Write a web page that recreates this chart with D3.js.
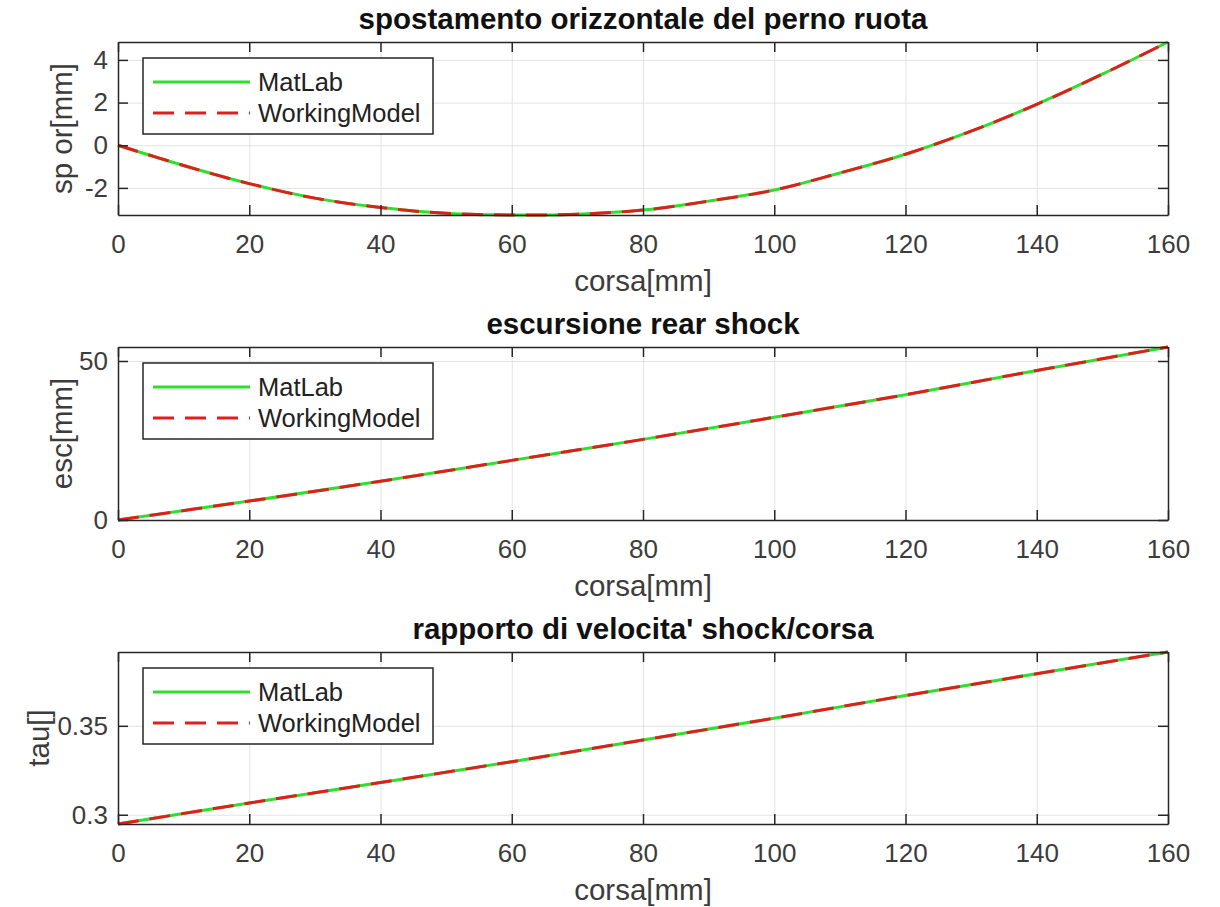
<!DOCTYPE html>
<html>
<head>
<meta charset="utf-8">
<script src="https://cdn.jsdelivr.net/npm/d3@7"></script>
<style>
  html, body { margin: 0; padding: 0; background: #fff; }
  svg { display: block; }
  text { font-family: "Liberation Sans", Arial, sans-serif; }
</style>
</head>
<body>
<svg id="chart" width="1220" height="907"></svg>
<script>
// ---------------- data ----------------
const xTicks = [0, 20, 40, 60, 80, 100, 120, 140, 160];

// panel 1: spostamento orizzontale del perno ruota
const corsa1 = [0, 10, 20, 30, 40, 50, 60, 70, 80, 90, 100, 110, 120, 130, 140, 150, 160];
const spOrMatLab = [0, -0.95, -1.80, -2.48, -2.92, -3.19, -3.27, -3.23, -3.04, -2.62, -2.10, -1.30, -0.42, 0.66, 1.92, 3.33, 4.84];
const spOrWorkingModel = [0, -0.95, -1.80, -2.48, -2.92, -3.19, -3.27, -3.23, -3.04, -2.62, -2.10, -1.30, -0.42, 0.66, 1.92, 3.33, 4.84];
const yTicks1 = [-2, 0, 2, 4];

// panel 2: escursione rear shock
const corsa2 = [0, 20, 40, 60, 80, 100, 120, 140, 160];
const escMatLab = [0, 5.95, 12.2, 18.75, 25.35, 32.3, 39.4, 47.0, 54.4];
const escWorkingModel = [0, 5.95, 12.2, 18.75, 25.35, 32.3, 39.4, 47.0, 54.4];
const yTicks2 = [0, 50];

// panel 3: rapporto di velocita' shock/corsa
const corsa3 = [0, 20, 40, 60, 80, 100, 120, 140, 160];
const tauMatLab = [0.2948, 0.3066, 0.3181, 0.3298, 0.3420, 0.3543, 0.3670, 0.3793, 0.3915];
const tauWorkingModel = [0.2948, 0.3066, 0.3181, 0.3298, 0.3420, 0.3543, 0.3670, 0.3793, 0.3915];
const yTicks3 = [0.3, 0.35];

const titles = ["spostamento orizzontale del perno ruota", "escursione rear shock", "rapporto di velocita' shock/corsa"];
const yLabels = ["sp or[mm]", "esc[mm]", "tau[]"];
const xLabel = "corsa[mm]";
const seriesNames = ["MatLab", "WorkingModel"];

// ---------------- layout / style ----------------
const left = 118, right = 1168;
const panels = [
  { top: 42,  bottom: 215, x: corsa1, a: spOrMatLab, b: spOrWorkingModel, yt: yTicks1, ylx: 72 },
  { top: 347, bottom: 520, x: corsa2, a: escMatLab,  b: escWorkingModel,  yt: yTicks2, ylx: 72 },
  { top: 652, bottom: 824, x: corsa3, a: tauMatLab,  b: tauWorkingModel,  yt: yTicks3, ylx: 49 }
];
const GREEN = "#2ee02e", RED = "#e01e1e";
const AXIS = "#262626", GRID = "#e3e3e3", TXT = "#3c3c3c";
const TICK_FS = 26, LABEL_FS = 29.5, TITLE_FS = 29.5, LEG_FS = 25.5;

const svg = d3.select("#chart");
svg.append("rect").attr("width", 1220).attr("height", 907).attr("fill", "#fff");

panels.forEach((p, i) => {
  const x = d3.scaleLinear().domain([0, 160]).range([left, right]);
  const all = p.a.concat(p.b);
  const y = d3.scaleLinear().domain(d3.extent(all)).range([p.bottom, p.top]);
  const g = svg.append("g");
  const h = p.bottom - p.top, w = right - left;

  // grid
  g.append("g").attr("transform", `translate(0,${p.bottom})`)
    .call(d3.axisBottom(x).tickValues(xTicks).tickSize(-h).tickFormat(""))
    .call(s => { s.select(".domain").remove(); s.selectAll("line").attr("stroke", GRID).attr("stroke-width", 1); });
  g.append("g").attr("transform", `translate(${left},0)`)
    .call(d3.axisLeft(y).tickValues(p.yt).tickSize(-w).tickFormat(""))
    .call(s => { s.select(".domain").remove(); s.selectAll("line").attr("stroke", GRID).attr("stroke-width", 1); });

  // lines
  const xs = p.x;
  const lineA = d3.line().x((d, k) => x(xs[k])).y(d => y(d)).curve(d3.curveCatmullRom.alpha(0.5));
  g.append("path").datum(p.a).attr("d", lineA).attr("fill", "none")
    .attr("stroke", GREEN).attr("stroke-width", 3);
  g.append("path").datum(p.b).attr("d", lineA).attr("fill", "none")
    .attr("stroke", RED).attr("stroke-width", 3).attr("stroke-dasharray", "21,11");

  // axes (inward ticks, box)
  const styleAxis = s => {
    s.select(".domain").attr("stroke", AXIS).attr("stroke-width", 1.5);
    s.selectAll(".tick line").attr("stroke", AXIS).attr("stroke-width", 1.5);
    s.selectAll("text").attr("fill", TXT).attr("font-size", TICK_FS).attr("font-family", "Liberation Sans, Arial, sans-serif");
  };
  g.append("g").attr("transform", `translate(0,${p.bottom})`)
    .call(d3.axisBottom(x).tickValues(xTicks).tickSizeInner(-10).tickSizeOuter(0).tickPadding(20).tickFormat(d => String(d)))
    .call(styleAxis);
  g.append("g").attr("transform", `translate(0,${p.top})`)
    .call(d3.axisTop(x).tickValues(xTicks).tickSizeInner(-10).tickSizeOuter(0).tickFormat(""))
    .call(styleAxis);
  g.append("g").attr("transform", `translate(${left},0)`)
    .call(d3.axisLeft(y).tickValues(p.yt).tickSizeInner(-10).tickSizeOuter(0).tickPadding(10).tickFormat(d => String(d)))
    .call(styleAxis);
  g.append("g").attr("transform", `translate(${right},0)`)
    .call(d3.axisRight(y).tickValues(p.yt).tickSizeInner(-10).tickSizeOuter(0).tickFormat(""))
    .call(styleAxis);

  // title
  g.append("text").attr("x", (left + right) / 2).attr("y", p.top - 13)
    .attr("text-anchor", "middle").attr("font-weight", "bold").attr("font-size", TITLE_FS)
    .attr("fill", "#111").text(titles[i]);
  // x label
  g.append("text").attr("x", (left + right) / 2).attr("y", p.bottom + 76)
    .attr("text-anchor", "middle").attr("font-size", LABEL_FS).attr("fill", TXT).text(xLabel);
  // y label
  g.append("text").attr("transform", `translate(${p.ylx},${(p.top + p.bottom) / 2}) rotate(-90)`)
    .attr("text-anchor", "middle").attr("font-size", LABEL_FS).attr("fill", TXT).text(yLabels[i]);

  // legend
  const lg = g.append("g").attr("transform", `translate(${left + 25},${p.top + 16})`);
  lg.append("rect").attr("width", 290).attr("height", 76).attr("fill", "#fff")
    .attr("stroke", AXIS).attr("stroke-width", 1.5);
  const rows = [{ c: GREEN, dash: null, yy: 24 }, { c: RED, dash: "21,11", yy: 55 }];
  rows.forEach((r, k) => {
    lg.append("line").attr("x1", 10).attr("x2", 107).attr("y1", r.yy).attr("y2", r.yy)
      .attr("stroke", r.c).attr("stroke-width", 3).attr("stroke-dasharray", r.dash);
    lg.append("text").attr("x", 115).attr("y", r.yy).attr("dy", "0.35em")
      .attr("font-size", LEG_FS).attr("fill", "#222").text(seriesNames[k]);
  });
});
</script>
</body>
</html>
